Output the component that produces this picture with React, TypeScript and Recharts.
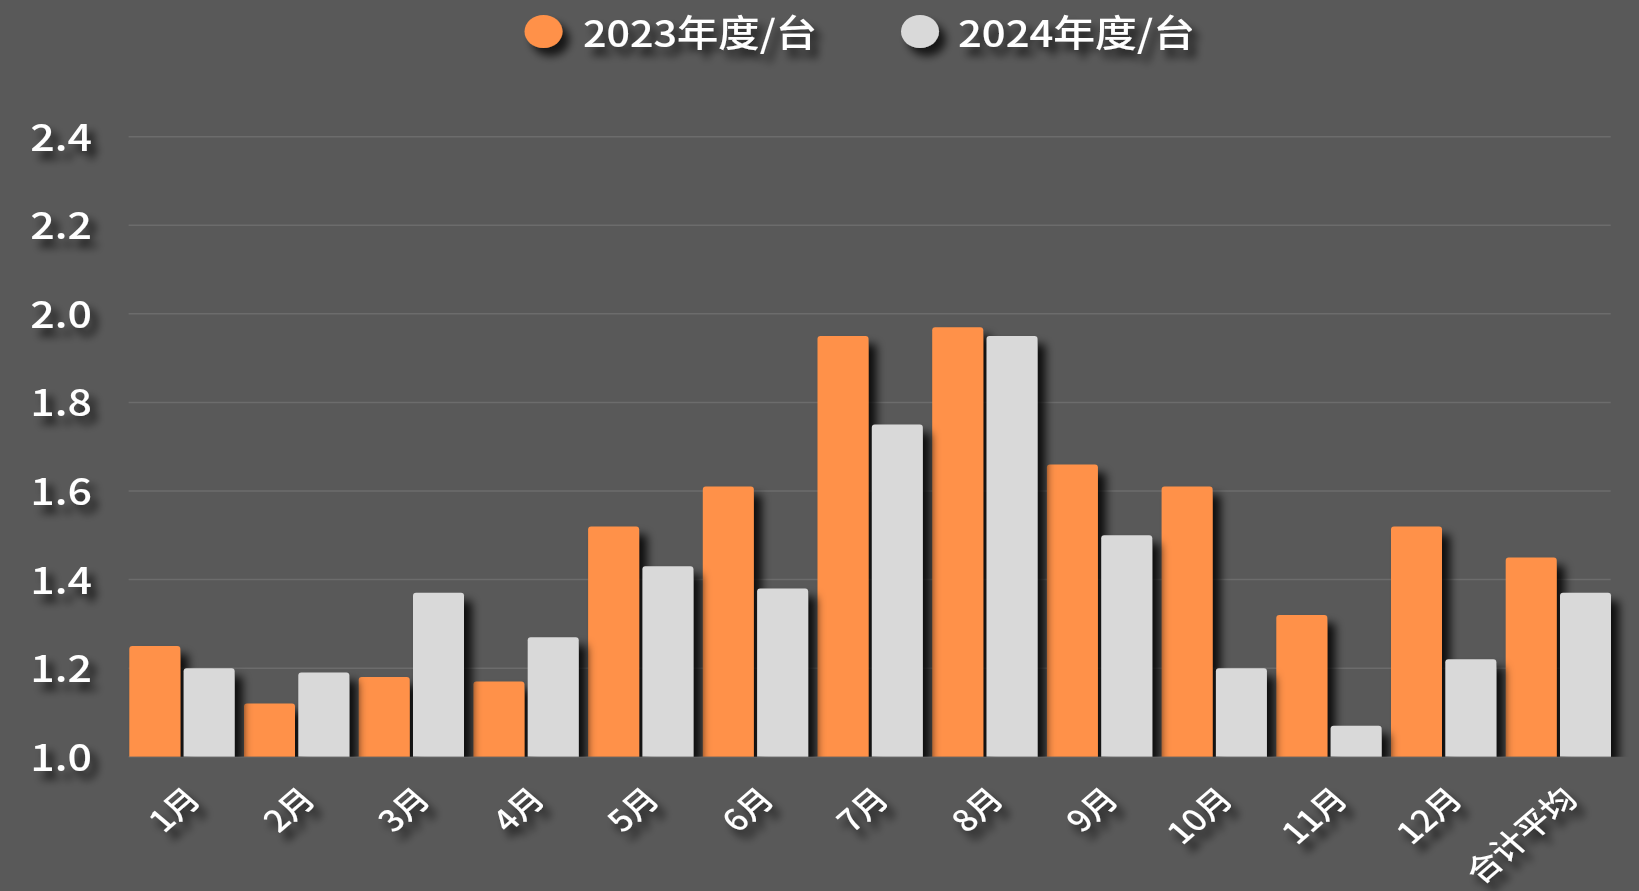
import React from 'react';
import { BarChart, Bar, XAxis, YAxis, CartesianGrid, Legend, Rectangle } from 'recharts';

const months = ['1月', '2月', '3月', '4月', '5月', '6月', '7月', '8月', '9月', '10月', '11月', '12月', '合计平均'];
const sales2023 = [1.25, 1.12, 1.18, 1.17, 1.52, 1.61, 1.95, 1.97, 1.66, 1.61, 1.32, 1.52, 1.45];
const sales2024 = [1.20, 1.19, 1.37, 1.27, 1.43, 1.38, 1.75, 1.95, 1.50, 1.20, 1.07, 1.22, 1.37];
const seriesNames = ['2023年度/台', '2024年度/台'];
const yTicks = [1.0, 1.2, 1.4, 1.6, 1.8, 2.0, 2.2, 2.4];

const ORANGE = '#FF9148';
const GRAY = '#D9D9D9';
const BG = '#595959';
const FONT = '"Noto Sans CJK SC", "Noto Sans", sans-serif';
const SX = 1.16;

const data = months.map((m, i) => ({ month: m, a: sales2023[i], b: sales2024[i] }));

const XTick = (props: any) => {
  const { x, y, payload } = props;
  return (
    <g filter="url(#textShadow)">
      <text
        transform={`translate(${x + 21},${y + 44}) scale(${SX},1) rotate(-45)`}
        textAnchor="end"
        fontSize={30}
        fontWeight={500}
        fontFamily={FONT}
        fill="#FFFFFF"
      >
        {payload.value}
      </text>
    </g>
  );
};

const YTick = (props: any) => {
  const { y, payload } = props;
  return (
    <g filter="url(#textShadow)">
      <text
        transform={`translate(92,${y + 14}) scale(${SX},1)`}
        textAnchor="end"
        fontSize={37}
        fontWeight={500}
        fontFamily={FONT}
        fill="#FFFFFF"
      >
        {Number(payload.value).toFixed(1)}
      </text>
    </g>
  );
};

const LegendContent = () => {
  const items = [
    { name: seriesNames[0], color: ORANGE, cx: 543.5, tx: 583, len: 234 },
    { name: seriesNames[1], color: GRAY, cx: 920, tx: 958, len: 237 },
  ];
  return (
    <svg width={1639} height={70} style={{ display: 'block', overflow: 'visible' }}>
      {items.map((it) => (
        <g key={it.name} filter="url(#textShadow)">
          <ellipse cx={it.cx} cy={31.5} rx={19} ry={16.5} fill={it.color} />
          <text
            x={it.tx}
            y={46.5}
            fontSize={37}
            fontWeight={500}
            fontFamily={FONT}
            fill="#FFFFFF"
            textLength={it.len}
            lengthAdjust="spacingAndGlyphs"
          >
            {it.name}
          </text>
        </g>
      ))}
    </svg>
  );
};

const ShadowBar = (props: any) => <Rectangle {...props} filter="url(#barShadow)" />;

export default function App() {
  return (
    <div style={{ position: 'absolute', left: 0, top: 0, width: 1639, height: 891, background: BG, overflow: 'hidden' }}>
      <svg width={0} height={0} style={{ position: 'absolute' }}>
        <defs>
          <filter id="barShadow" x="-50%" y="-20%" width="200%" height="150%">
            <feDropShadow dx={8} dy={8} stdDeviation={5} floodColor="#000000" floodOpacity={0.85} />
          </filter>
          <filter id="textShadow" x="-50%" y="-80%" width="200%" height="260%">
            <feDropShadow dx={7} dy={8} stdDeviation={4} floodColor="#000000" floodOpacity={0.75} />
          </filter>
        </defs>
      </svg>
      <BarChart
        width={1639}
        height={891}
        data={data}
        margin={{ top: 136.7, right: 23.6, left: 0, bottom: 0 }}
        barSize={51}
        barGap={3.3}
      >
        <CartesianGrid
          horizontal
          vertical={false}
          stroke="#6C6C6C"
          strokeWidth={1.5}
          x={128.6}
          width={1482.1}
        />
        <XAxis
          dataKey="month"
          interval={0}
          tickLine={false}
          axisLine={false}
          tickSize={0}
          tickMargin={0}
          height={134.3}
          tick={<XTick />}
        />
        <YAxis
          width={124.3}
          domain={[1.0, 2.4]}
          ticks={yTicks}
          allowDataOverflow
          tickLine={false}
          axisLine={false}
          tick={<YTick />}
        />
        <Legend
          verticalAlign="middle"
          align="center"
          layout="horizontal"
          content={<LegendContent />}
          wrapperStyle={{ position: 'absolute', top: 0, left: 0, width: 1639, height: 70 }}
        />
        <Bar dataKey="a" name={seriesNames[0]} fill={ORANGE} radius={[3, 3, 0, 0]} isAnimationActive={false} shape={<ShadowBar />} />
        <Bar dataKey="b" name={seriesNames[1]} fill={GRAY} radius={[3, 3, 0, 0]} isAnimationActive={false} shape={<ShadowBar />} />
      </BarChart>
    </div>
  );
}
